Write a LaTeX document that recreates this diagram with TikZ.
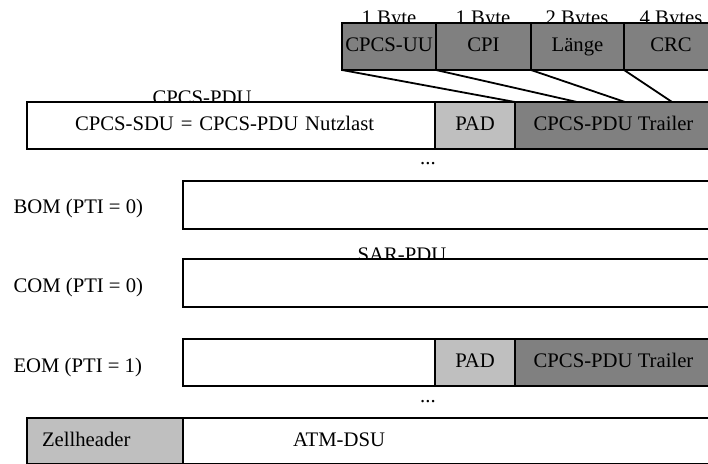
\documentclass[tikz,border=0pt]{standalone}
\usepackage{fontspec}
\setmainfont{Liberation Serif}
\usetikzlibrary{positioning}

\begin{document}
\begin{tikzpicture}[x=1pt, y=-1pt, font=\fontsize{20.7pt}{24pt}\selectfont, node distance=0pt]
        \tikzstyle{field}=[draw, rectangle, line width=1.8pt, inner sep=0pt, outer sep=0pt, minimum height=47pt, text height=14pt, text depth=4pt, fill=white]
        \tikzstyle{dark}=[fill=gray]
        \tikzstyle{light}=[fill=lightgray]
        \tikzstyle{link}=[line width=1.8pt]

        \clip (0,0) rectangle (708,463);

        % labels first, the boxes cover their lower edge
        \node[anchor=base] (b1) at (389,24) {1 Byte};
        \node[anchor=base] (b2) at (483,24) {1 Byte};
        \node[anchor=base] (b3) at (577,24) {2 Bytes};
        \node[anchor=base] (b4) at (671,24) {4 Bytes};
        \node[anchor=base] (cpdu) at (202,104) {CPCS-PDU};
        \node[anchor=base] (sar) at (402,261) {SAR-PDU};

        % trailer fields
        \node[field, dark, anchor=north west, minimum width=94pt] (uu) at (342,23) {CPCS-UU};
        \node[field, dark, minimum width=95pt] (cpi) [right=of uu] {CPI};
        \node[field, dark, minimum width=93pt] (len) [right=of cpi] {Länge};
        \node[field, dark, minimum width=94pt] (crc) [right=of len] {CRC};

        % CPCS-PDU
        \node[field, anchor=north west, text width=312pt, inner xsep=48pt, align=left] (sdu) at (27,102) {CPCS-SDU = CPCS-PDU Nutzlast};
        \node[field, light, minimum width=80pt] (pad) [right=of sdu] {PAD};
        \node[field, dark, minimum width=197pt] (trl) [right=of pad] {CPCS-PDU Trailer};
        \node[anchor=base] (dots1) at (428,164) {...};

        \coordinate (t2) at (577,102);
        \coordinate (t3) at (625,102);
        \coordinate (t4) at (672,102);
        \draw[link] (uu.south west) -- (trl.north west);
        \draw[link] (cpi.south west) -- (t2);
        \draw[link] (len.south west) -- (t3);
        \draw[link] (crc.south west) -- (t4);

        % SAR-PDUs
        \node[field, anchor=north west, minimum width=529pt, minimum height=48pt] (bom) at (183,181) {};
        \node[field, anchor=north west, minimum width=529pt, minimum height=48pt] (com) at (183,259) {};
        \node[field, anchor=north west, minimum width=252pt] (eom) at (183,339) {};
        \node[field, light, minimum width=80pt] (pad2) [right=of eom] {PAD};
        \node[field, dark, minimum width=197pt] (trl2) [right=of pad2] {CPCS-PDU Trailer};
        \node[anchor=base] (dots2) at (428,402) {...};

        \node[anchor=base west] (lbom) at (10,213) {BOM (PTI = 0)};
        \node[anchor=base west] (lcom) at (10,292) {COM (PTI = 0)};
        \node[anchor=base west] (leom) at (10,372) {EOM (PTI = 1)};

        % ATM cell
        \node[field, light, anchor=north west, minimum height=46pt, text width=126pt, inner xsep=15pt, align=left] (zell) at (27,418) {Zellheader};
        \node[field, minimum height=46pt, text width=309pt, inner xsep=110pt, align=left] (atm) [right=of zell] {ATM-DSU};

    \end{tikzpicture}
\end{document}
